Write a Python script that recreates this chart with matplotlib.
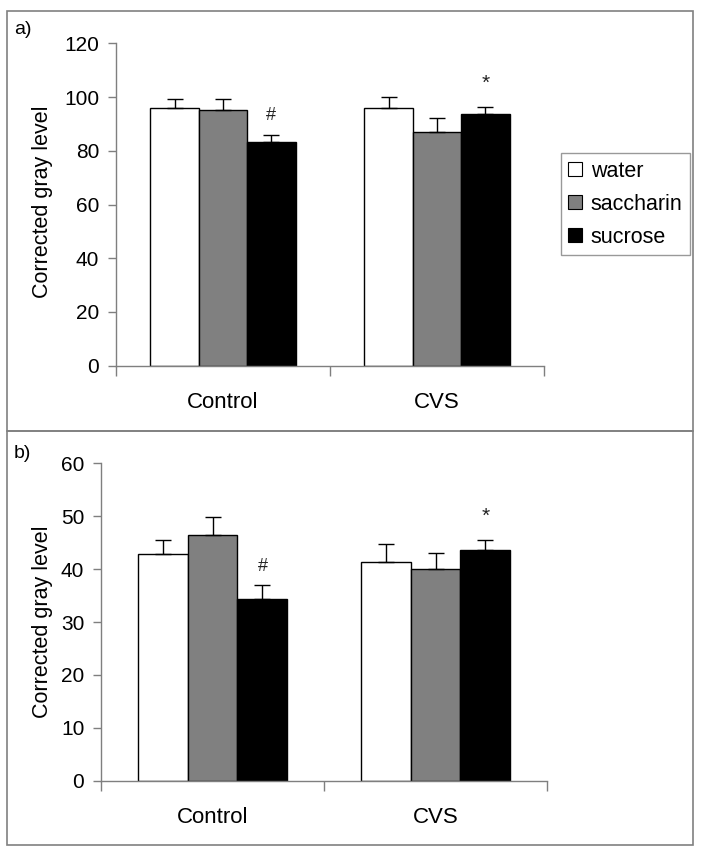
import matplotlib
matplotlib.use("Agg")
import matplotlib.pyplot as plt
from matplotlib.patches import Rectangle, Patch
import numpy as np

plt.rcParams['font.family'] = ['Liberation Sans', 'DejaVu Sans']

groups = ["Control", "CVS"]
series = ["water", "saccharin", "sucrose"]
colors = ["#ffffff", "#808080", "#000000"]

# panel a
a_vals = {"water": [95.8, 95.8], "saccharin": [95.2, 86.9], "sucrose": [83.4, 93.7]}
a_err = {"water": [3.3, 4.3], "saccharin": [3.9, 5.2], "sucrose": [2.5, 2.5]}
a_yticks = [0, 20, 40, 60, 80, 100, 120]
a_marks = [("#", 0, "sucrose", 93.3), ("*", 1, "sucrose", 105.1)]

# panel b
b_vals = {"water": [42.8, 41.4], "saccharin": [46.4, 40.0], "sucrose": [34.3, 43.7]}
b_err = {"water": [2.7, 3.3], "saccharin": [3.5, 3.0], "sucrose": [2.6, 1.8]}
b_yticks = [0, 10, 20, 30, 40, 50, 60]
b_marks = [("#", 0, "sucrose", 40.5), ("*", 1, "sucrose", 50.0)]

W, H = 703, 856
fig = plt.figure(figsize=(W / 100, H / 100), dpi=100)

spine_col = "#7f7f7f"


def fx(px):
    return px / W


def fy(py):
    return 1 - py / H


def panel(rect, vals, errs, yticks, marks, width):
    ax = fig.add_axes(rect)
    x = np.arange(len(groups))
    for i, s in enumerate(series):
        pos = x + (i - 1) * width
        ax.bar(pos, vals[s], width=width, color=colors[i], edgecolor="black",
               linewidth=1.0, zorder=2)
        ax.errorbar(pos, vals[s], yerr=[np.zeros(len(groups)), errs[s]],
                    fmt="none", ecolor="black", elinewidth=1.0, capsize=5.5,
                    capthick=1.0, zorder=3)
    for sym, g, s, y in marks:
        i = series.index(s)
        ax.text(g + (i - 1) * width, y, sym, ha="center", va="center",
                fontsize=13 if sym == "#" else 15, color="#222222")
    ax.set_xlim(-0.5, len(groups) - 0.5)
    ax.set_ylim(yticks[0], yticks[-1])
    ax.set_yticks(yticks)
    ax.set_yticklabels([str(t) for t in yticks], fontsize=15)
    ax.set_xticks(np.arange(len(groups) + 1) - 0.5)
    ax.set_xticklabels([])
    ax.set_xticks(x, minor=True)
    ax.set_xticklabels(groups, minor=True, fontsize=16)
    ax.tick_params(axis="x", which="minor", length=0, pad=19)
    ax.tick_params(axis="x", which="major", length=7, width=1, color=spine_col,
                   direction="out")
    ax.tick_params(axis="y", length=6, width=1, color=spine_col, pad=6)
    for sp in ["top", "right"]:
        ax.spines[sp].set_visible(False)
    for sp in ["left", "bottom"]:
        ax.spines[sp].set_color(spine_col)
        ax.spines[sp].set_linewidth(1.0)
    ax.patch.set_alpha(0)
    return ax


ax_a = panel([fx(116), fy(365.7), fx(544) - fx(116), fy(43.3) - fy(365.7)],
             a_vals, a_err, a_yticks, a_marks, 0.226)
ax_b = panel([fx(101), fy(780.7), fx(547) - fx(101), fy(463.3) - fy(780.7)],
             b_vals, b_err, b_yticks, b_marks, 0.224)

fig.text(fx(43), fy(202), "Corrected gray level", rotation=90, ha="center",
         va="center", fontsize=15.5)
fig.text(fx(43), fy(622), "Corrected gray level", rotation=90, ha="center",
         va="center", fontsize=15.5)

fig.text(fx(14), fy(30), "a)", ha="left", va="center", fontsize=14)
fig.text(fx(14), fy(454), "b)", ha="left", va="center", fontsize=14)

# outer panel boxes
for (y0, y1) in [(11, 431.5), (431.5, 845)]:
    fig.add_artist(Rectangle((fx(7), fy(y1)), fx(693) - fx(7), fy(y0) - fy(y1),
                             transform=fig.transFigure, fill=False,
                             edgecolor="#808080", linewidth=1.2))

handles = [Patch(facecolor=c, edgecolor="black", linewidth=0.8) for c in colors]
leg = fig.legend(handles, series, loc="upper left",
                 bbox_to_anchor=(fx(560.7), fy(153.3)),
                 fontsize=15.5, frameon=True, fancybox=False,
                 edgecolor="#808080", handlelength=0.65, handleheight=0.65,
                 handletextpad=0.4, labelspacing=0.55, borderpad=0.35,
                 borderaxespad=0)
leg.get_frame().set_linewidth(1.0)

fig.savefig("out.png", dpi=100)
